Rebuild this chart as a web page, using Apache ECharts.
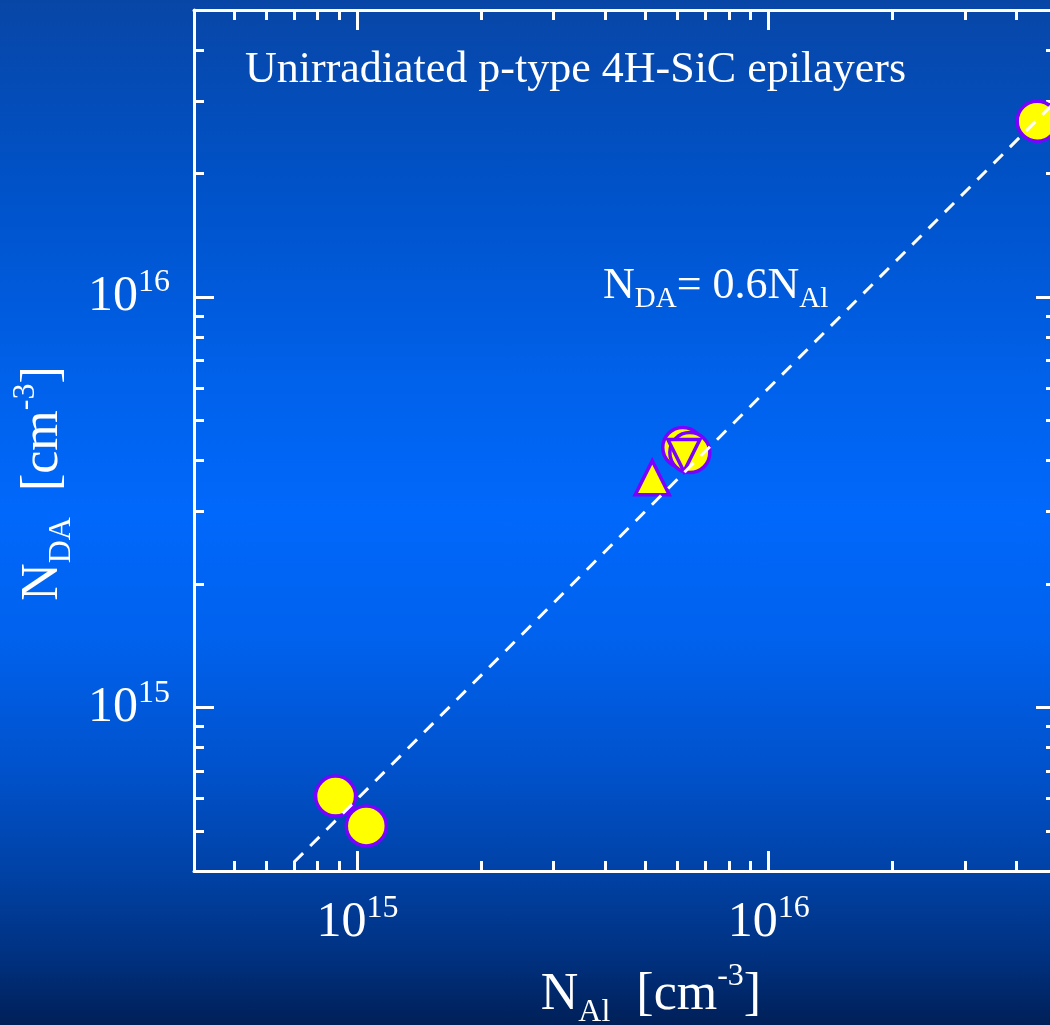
<!DOCTYPE html>
<html>
<head>
<meta charset="utf-8">
<script src="https://cdn.jsdelivr.net/npm/echarts@6/dist/echarts.min.js"></script>
<style>
html,body{margin:0;padding:0;}
#c{width:1050px;height:1025px;background:linear-gradient(to bottom,#0846a6 0%,#0052c8 18%,#0062ec 38%,#0068fc 50%,#0062ee 62%,#0052cc 75%,#0042a6 85%,#003282 93%,#002058 100%);}
</style>
</head>
<body>
<div id="c"></div>
<script>
// ---- data (concentrations in cm^-3) ----
const xRange = [4e14, 5e16];
const yRange = [4e14, 5e16];
const majorTicks = [1e15, 1e16];
const minorTicks = [5e14, 6e14, 7e14, 8e14, 9e14, 2e15, 3e15, 4e15, 5e15, 6e15, 7e15, 8e15, 9e15, 2e16, 3e16, 4e16];
const circleNAl = [8.84e14, 1.05e15, 6.18e15, 6.43e15, 4.5e16];
const circleNDA = [6.09e14, 5.15e14, 4.30e15, 4.18e15, 2.68e16];
const upTriNAl = [5.21e15];
const upTriNDA = [3.63e15];
const downTriNAl = [6.22e15];
const downTriNDA = [4.11e15];
const fitNAl = [7.0e14, 5.0e16];
const fitNDA = [4.2e14, 3.0e16];
const titleText = 'Unirradiated p-type 4H-SiC epilayers';

const lg = Math.log10;
const FONT = '"Liberation Serif", "Times New Roman", serif';
const WHITE = '#ffffff';
const pts = (xs, ys) => xs.map((x, i) => [lg(x), lg(ys[i])]);

const tickRich = {
  b: {fontSize: 50, fontFamily: FONT, color: WHITE, lineHeight: 60},
  s: {fontSize: 32, fontFamily: FONT, color: WHITE, lineHeight: 32, verticalAlign: 'top'}
};
const tickFmt = v => '{b|10}{s|' + Math.round(v) + '}';

const nameRich = {
  n: {fontSize: 52, fontFamily: FONT, color: WHITE, lineHeight: 68},
  sub: {fontSize: 32, fontFamily: FONT, color: WHITE, lineHeight: 32, verticalAlign: 'bottom'},
  sup: {fontSize: 32, fontFamily: FONT, color: WHITE, lineHeight: 32, verticalAlign: 'top'}
};

function makeAxis(pos, range, ticks, len, opts) {
  opts = opts || {};
  const a = {
    type: 'value',
    position: pos,
    min: lg(range[0]),
    max: lg(range[1]),
    splitLine: {show: false},
    axisLine: {show: !!opts.line, lineStyle: {color: WHITE, width: 3}},
    axisTick: {show: true, inside: true, length: len, customValues: ticks.map(lg),
               lineStyle: {color: WHITE, width: 3}},
    axisLabel: {show: false}
  };
  if (opts.labels) {
    a.axisLabel = {show: true, customValues: majorTicks.map(lg), formatter: tickFmt,
                   rich: tickRich, margin: opts.margin};
  }
  if (opts.name) {
    a.name = opts.name;
    a.nameLocation = 'middle';
    a.nameGap = opts.nameGap;
    a.nameTextStyle = {rich: nameRich, padding: opts.namePad};
  }
  return a;
}

const chart = echarts.init(document.getElementById('c'), null, {renderer: 'canvas'});
chart.setOption({
  backgroundColor: 'transparent',
  animation: false,
  grid: {left: 194, top: 10, right: -6, bottom: 154, containLabel: false, outerBoundsMode: 'none'},
  xAxis: [
    makeAxis('bottom', xRange, majorTicks, 20, {line: true, labels: true, margin: 22,
      name: '{n|N}{sub|Al}{n|  [cm}{sup|-3}{n|]}', nameGap: 90, namePad: [0, 0, 0, 52]}),
    makeAxis('bottom', xRange, minorTicks, 10),
    makeAxis('top', xRange, majorTicks, 20, {line: true}),
    makeAxis('top', xRange, minorTicks, 10)
  ],
  yAxis: [
    makeAxis('left', yRange, majorTicks, 20, {line: true, labels: true, margin: 24,
      name: '{n|N}{sub|DA}{n|  [cm}{sup|-3}{n|]}', nameGap: 111, namePad: [0, 86, 0, 0]}),
    makeAxis('left', yRange, minorTicks, 10),
    makeAxis('right', yRange, majorTicks, 20, {line: true}),
    makeAxis('right', yRange, minorTicks, 10)
  ],
  series: [
    {
      name: 'circles', type: 'scatter', xAxisIndex: 0, yAxisIndex: 0, z: 2,
      symbol: 'circle', symbolSize: 40,
      itemStyle: {color: '#ffff00', borderColor: '#7a00ff', borderWidth: 3.5, opacity: 1},
      data: pts(circleNAl, circleNDA)
    },
    {
      name: 'up', type: 'scatter', xAxisIndex: 0, yAxisIndex: 0, z: 3,
      symbol: 'triangle', symbolSize: 34,
      itemStyle: {color: '#ffff00', borderColor: '#7a00ff', borderWidth: 3.5, opacity: 1},
      data: pts(upTriNAl, upTriNDA)
    },
    {
      name: 'down', type: 'scatter', xAxisIndex: 0, yAxisIndex: 0, z: 3,
      symbol: 'triangle', symbolRotate: 180, symbolSize: 32,
      itemStyle: {color: '#ffff00', borderColor: '#7a00ff', borderWidth: 3.5, opacity: 1},
      data: pts(downTriNAl, downTriNDA)
    },
    {
      name: 'fit', type: 'line', xAxisIndex: 0, yAxisIndex: 0, z: 5,
      symbol: 'none', clip: false,
      lineStyle: {color: WHITE, width: 3, type: [13, 10]},
      data: pts(fitNAl, fitNDA)
    }
  ],
  graphic: [
    {type: 'text', left: 245, top: 48, z: 10,
     style: {text: titleText, font: '44px ' + FONT, fill: WHITE}},
    {type: 'text', left: 603, top: 264, z: 10,
     style: {text: '{n|N}{sub|DA}{n|= 0.6N}{sub|Al}', fill: WHITE,
       rich: {
         n: {fontSize: 44, fontFamily: FONT, fill: WHITE, lineHeight: 56},
         sub: {fontSize: 29, fontFamily: FONT, fill: WHITE, lineHeight: 29, verticalAlign: 'bottom'}
       }}}
  ]
});
</script>
</body>
</html>
